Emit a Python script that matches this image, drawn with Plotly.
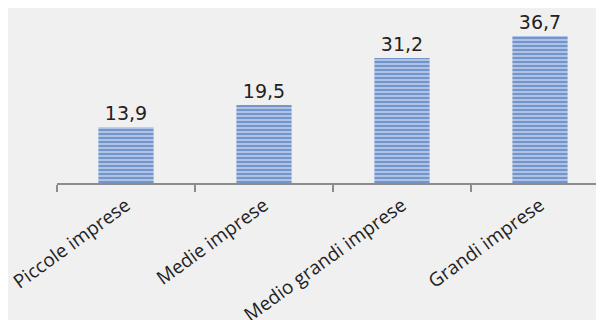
import plotly.graph_objects as go

categories = ["Piccole imprese", "Medie imprese", "Medio grandi imprese", "Grandi imprese"]
values = [13.9, 19.5, 31.2, 36.7]

fig = go.Figure(go.Bar(
    x=categories, y=values,
    marker=dict(color="#adc2e4", line=dict(width=0),
                pattern=dict(shape="-", fgcolor="#3a67ad", bgcolor="#adc2e4", size=4, solidity=0.5)),
    texttemplate="%{y:.1f}", textposition="outside",
    textfont=dict(family="DejaVu Sans", size=19, color="#222222"),
    cliponaxis=False,
))

# page body has an 8px default margin; margins compensate so the plot lands where the reference has it
fig.update_layout(
    width=604, height=320,
    margin=dict(l=49, r=3, t=0, b=145),
    paper_bgcolor="#f0f0f0", plot_bgcolor="#f0f0f0",
    separators=",.",
    bargap=0.6, showlegend=False,
    xaxis=dict(range=[-0.5, 3.5], showline=True, linecolor="#8c8c8c", linewidth=2,
               ticks="outside", tickson="boundaries", ticklen=7, tickwidth=2, tickcolor="#8c8c8c",
               tickangle=-36, tickfont=dict(family="Open Sans", size=19, color="#222222"),
               ticklabelstandoff=2,
               showgrid=False, automargin=False),
    yaxis=dict(range=[0, 43.7], visible=False, showgrid=False, automargin=False),
)

fig.write_html("out.html")
